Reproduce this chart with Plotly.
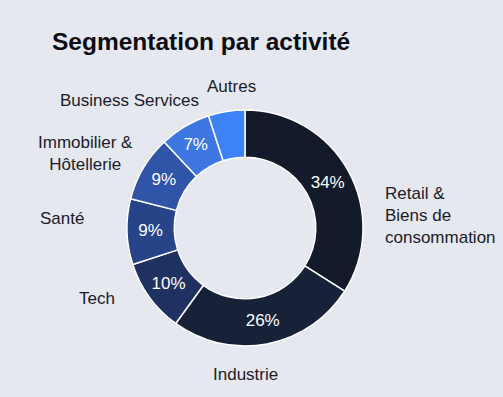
import plotly.graph_objects as go

# ---- data ----
categories = ["Retail &<br>Biens de<br>consommation", "Industrie", "Tech", "Santé",
              "Immobilier &<br>Hôtellerie", "Business Services", "Autres"]
shares = [34, 26, 10, 9, 9, 7, 5]
show_pct = [True, True, True, True, True, True, False]
colors = ["#131a2a", "#172137", "#1f3160", "#284488", "#2f54a8", "#3e76e2", "#3d82f6"]

# ---- layout helpers (pixel positions of the outside labels) ----
W, H = 503, 397
label_pos = [  # (x px, y px, xanchor, align)
    (383, 215, "left", "left"),
    (245, 374, "center", "center"),
    (97, 298, "center", "center"),
    (61.5, 219, "center", "center"),
    (85, 154, "center", "center"),
    (129, 100, "center", "center"),
    (231, 86, "center", "center"),
]

cx, cy, r = 245, 228, 118
fig = go.Figure(go.Pie(
    labels=categories,
    values=shares,
    sort=False,
    direction="clockwise",
    rotation=0,
    hole=0.6,
    marker=dict(colors=colors, line=dict(color="#ffffff", width=1.5)),
    texttemplate=["%{value}%" if s else "" for s in show_pct],
    textposition="inside",
    insidetextorientation="horizontal",
    textfont=dict(color="#ffffff", size=17, family="Liberation Sans, Arial, sans-serif"),
    domain=dict(x=[(cx - r) / W, (cx + r) / W], y=[1 - (cy + r) / H, 1 - (cy - r) / H]),
    showlegend=False,
    hoverinfo="label+percent",
))

annotations = []
for text, (x, y, xa, al) in zip(categories, label_pos):
    annotations.append(dict(
        text=text, x=x / W, y=1 - y / H, xref="paper", yref="paper",
        xanchor=xa, yanchor="middle", align=al, showarrow=False,
        font=dict(size=17, color="#1b1b2a", family="Liberation Sans, Arial, sans-serif"),
    ))
annotations.append(dict(
    text="<b>Segmentation par activité</b>", x=50 / W, y=1 - 41 / H,
    xref="paper", yref="paper", xanchor="left", yanchor="middle", showarrow=False,
    font=dict(size=24.5, color="#0c0c12", family="Liberation Sans, Arial, sans-serif"),
))

fig.update_layout(
    width=W, height=H,
    margin=dict(l=0, r=0, t=0, b=0),
    paper_bgcolor="#e5e8ef",
    plot_bgcolor="#e5e8ef",
    annotations=annotations,
)

fig.write_html(
    "out.html",
    config={"displayModeBar": False},
    post_script="document.body.style.margin='0';document.body.style.background='#e5e8ef';",
)
